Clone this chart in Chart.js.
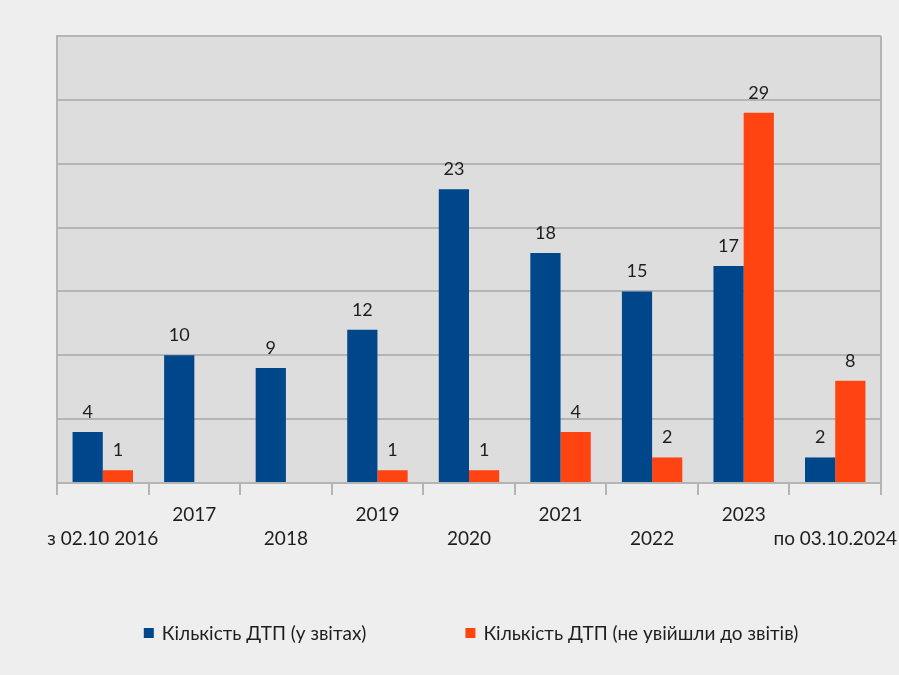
<!DOCTYPE html>
<html lang="uk">
<head>
<meta charset="UTF-8">
<title>Кількість ДТП</title>
<script src="https://cdn.jsdelivr.net/npm/chart.js"></script>
<style>
  html, body { margin: 0; padding: 0; background: #eeeeee; }
  #wrap { width: 899px; height: 675px; }
</style>
</head>
<body>
<div id="wrap"><canvas id="dtpChart" width="899" height="675"></canvas></div>
<script>
const categories = ['з 02.10 2016', '2017', '2018', '2019', '2020', '2021', '2022', '2023', 'по 03.10.2024'];
const inReports = [4, 10, 9, 12, 23, 18, 15, 17, 2];
const notInReports = [1, null, null, 1, 1, 4, 2, 29, 8];

// staggered labels: odd ones on the upper row, even ones on the lower row
const tickLabels = categories.map((c, i) => i % 2 === 1 ? [c, ''] : ['', c]);

const FONT = 'Lato, "Open Sans", sans-serif';
const TEXT = '#1e1e1e';

const plotBg = {
  id: 'plotBg',
  beforeDraw(chart) {
    const { ctx, chartArea: a } = chart;
    ctx.save();
    ctx.fillStyle = '#dddddd';
    ctx.fillRect(a.left, a.top, a.right - a.left, a.bottom - a.top);
    ctx.restore();
  },
  afterDatasetsDraw(chart) {
    const { ctx, chartArea: a } = chart;
    ctx.save();
    ctx.strokeStyle = '#b4b4b4';
    ctx.lineWidth = 2;
    ctx.beginPath();
    ctx.moveTo(a.right, a.top);
    ctx.lineTo(a.right, a.bottom + 12);
    ctx.stroke();
    ctx.restore();
  }
};

const valueLabels = {
  id: 'valueLabels',
  afterDatasetsDraw(chart) {
    const ctx = chart.ctx;
    ctx.save();
    ctx.font = '18px ' + FONT;
    ctx.fillStyle = TEXT;
    ctx.textAlign = 'center';
    ctx.textBaseline = 'alphabetic';
    chart.data.datasets.forEach((ds, di) => {
      chart.getDatasetMeta(di).data.forEach((bar, i) => {
        const v = ds.data[i];
        if (v === null || v === undefined) return;
        ctx.fillText(String(v), bar.x, bar.y - 14);
      });
    });
    ctx.restore();
  }
};

// legend with the wide gap between the two entries
const wideLegend = {
  id: 'wideLegend',
  afterDraw(chart) {
    const { ctx, chartArea: a } = chart;
    const box = 10, boxGap = 8, itemGap = 99, y = 633;
    ctx.save();
    ctx.font = '19px ' + FONT;
    ctx.textBaseline = 'middle';
    ctx.textAlign = 'left';
    const items = chart.data.datasets.map(ds => ({
      text: ds.label, color: ds.backgroundColor, w: ctx.measureText(ds.label).width
    }));
    let total = items.reduce((s, it) => s + box + boxGap + it.w, 0) + itemGap * (items.length - 1);
    let x = (a.left + a.right) / 2 + 2 - total / 2;
    items.forEach(it => {
      ctx.fillStyle = it.color;
      ctx.fillRect(x, y - box / 2, box, box);
      ctx.fillStyle = TEXT;
      ctx.fillText(it.text, x + box + boxGap, y + 1);
      x += box + boxGap + it.w + itemGap;
    });
    ctx.restore();
  }
};

new Chart(document.getElementById('dtpChart'), {
  type: 'bar',
  data: {
    labels: tickLabels,
    datasets: [
      {
        label: 'Кількість ДТП (у звітах)',
        data: inReports,
        backgroundColor: '#00468b',
        categoryPercentage: 0.66,
        barPercentage: 1.0
      },
      {
        label: 'Кількість ДТП (не увійшли до звітів)',
        data: notInReports,
        backgroundColor: '#ff4411',
        categoryPercentage: 0.66,
        barPercentage: 1.0
      }
    ]
  },
  options: {
    responsive: false,
    animation: false,
    layout: { padding: { top: 36, left: 57, right: 18, bottom: 112 } },
    scales: {
      x: {
        grid: {
          offset: true,
          drawOnChartArea: false,
          drawTicks: true,
          tickLength: 12,
          color: '#b4b4b4',
          lineWidth: 2
        },
        border: { color: '#b4b4b4', width: 2 },
        ticks: {
          autoSkip: false,
          maxRotation: 0,
          padding: 8,
          color: TEXT,
          font: { family: FONT, size: 19, lineHeight: 1.263 }
        },
        afterFit(scale) {
          scale.height = 80;
          scale.paddingLeft = 0;
          scale.paddingRight = 0;
        }
      },
      y: {
        min: 0,
        max: 35,
        ticks: { stepSize: 5, display: false },
        grid: { color: '#b4b4b4', lineWidth: 2, drawTicks: false },
        border: { color: '#b4b4b4', width: 2 },
        afterFit(scale) { scale.width = 0; }
      }
    },
    plugins: {
      legend: { display: false },
      tooltip: { enabled: false }
    }
  },
  plugins: [plotBg, valueLabels, wideLegend]
});
</script>
</body>
</html>
